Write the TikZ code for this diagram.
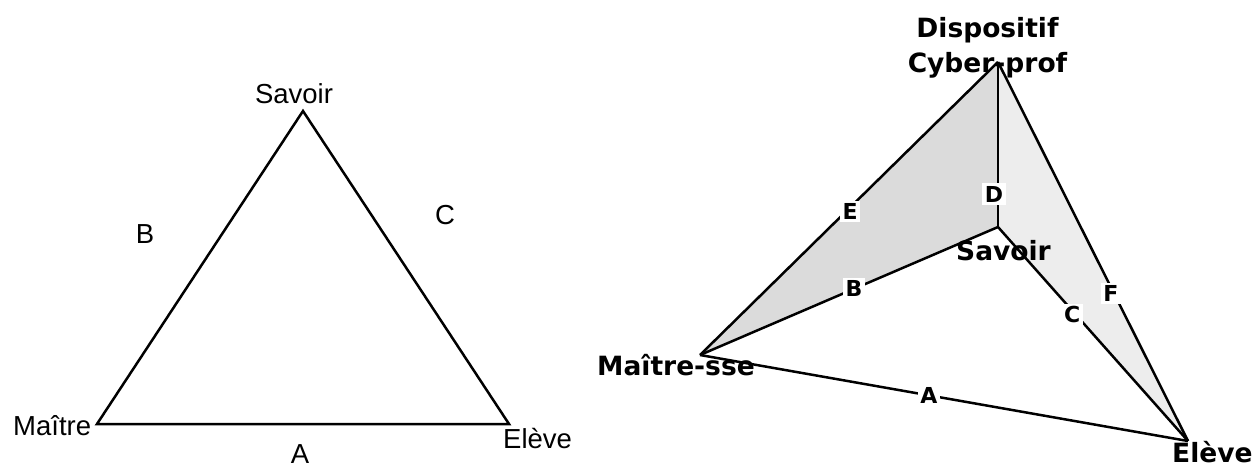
\documentclass[tikz,border=0pt]{standalone}
\usepackage{fontspec}
\setmainfont{Liberation Sans}
\newfontfamily\djb{DejaVu Sans}[BoldFont={DejaVu Sans Bold}]
\begin{document}
\begin{tikzpicture}[x=1pt,y=-1pt,
  edge/.style={line width=2.5pt,line join=miter},
  lbl/.style={inner sep=0pt,font=\fontsize{27.5}{30}\selectfont},
  blbl/.style={inner sep=0pt,font=\djb\bfseries\fontsize{26.5}{30}\selectfont},
  elbl/.style={fill=white,inner sep=2.5pt,font=\djb\bfseries\fontsize{22}{24}\selectfont},
  darkfill/.style={fill=black!14},
  lightfill/.style={fill=black!7}]
\useasboundingbox (0,0) rectangle (1254,464);
% ---------- left triangle ----------
\coordinate (S) at (303,111);
\coordinate (M) at (97,424);
\coordinate (E) at (509,424);
\draw[edge] (S) -- (M) -- (E) -- cycle;
\node[lbl,anchor=base] (tS) at (294,103) {Savoir};
\node[lbl,anchor=base west] (tM) at (13,435) {Maître};
\node[lbl,anchor=base west] (tE) at (503,448) {Elève};
\node[lbl,anchor=base] (tB) at (145,243) {B};
\node[lbl,anchor=base] (tC) at (445,224) {C};
\node[lbl,anchor=base] (tA) at (300,463) {A};
% ---------- right figure ----------
\coordinate (P) at (998,62);
\coordinate (S2) at (998,227);
\coordinate (M2) at (700,355);
\coordinate (E2) at (1188,441);
\fill[darkfill] (P) -- (M2) -- (S2) -- cycle;
\fill[lightfill] (P) -- (S2) -- (E2) -- cycle;
\draw[edge] (M2) -- (E2) node[elbl,pos=0.469] {A};
\draw[edge] (P) -- (M2) node[elbl,pos=0.51,xshift=4pt] {E};
\draw[edge] (M2) -- (S2) node[elbl,pos=0.517] {B};
\draw[edge] (P) -- (S2) node[elbl,pos=0.8,xshift=-4pt] {D};
\draw[edge] (S2) -- (E2) node[elbl,pos=0.39,yshift=-4pt] {C};
\draw[edge] (P) -- (E2) node[elbl,pos=0.61,xshift=-3pt] {F};
\node[blbl,anchor=base] (tD1) at (987.5,37) {Dispositif};
\node[blbl,anchor=base] (tD2) at (987.5,72) {Cyber-prof};
\node[blbl,anchor=base] (tS2) at (1003.5,260) {Savoir};
\node[blbl,anchor=base west] (tM2) at (597,375) {Maître-sse};
\node[blbl,anchor=base west] (tE2) at (1172,462) {Elève};
\end{tikzpicture}
\end{document}
